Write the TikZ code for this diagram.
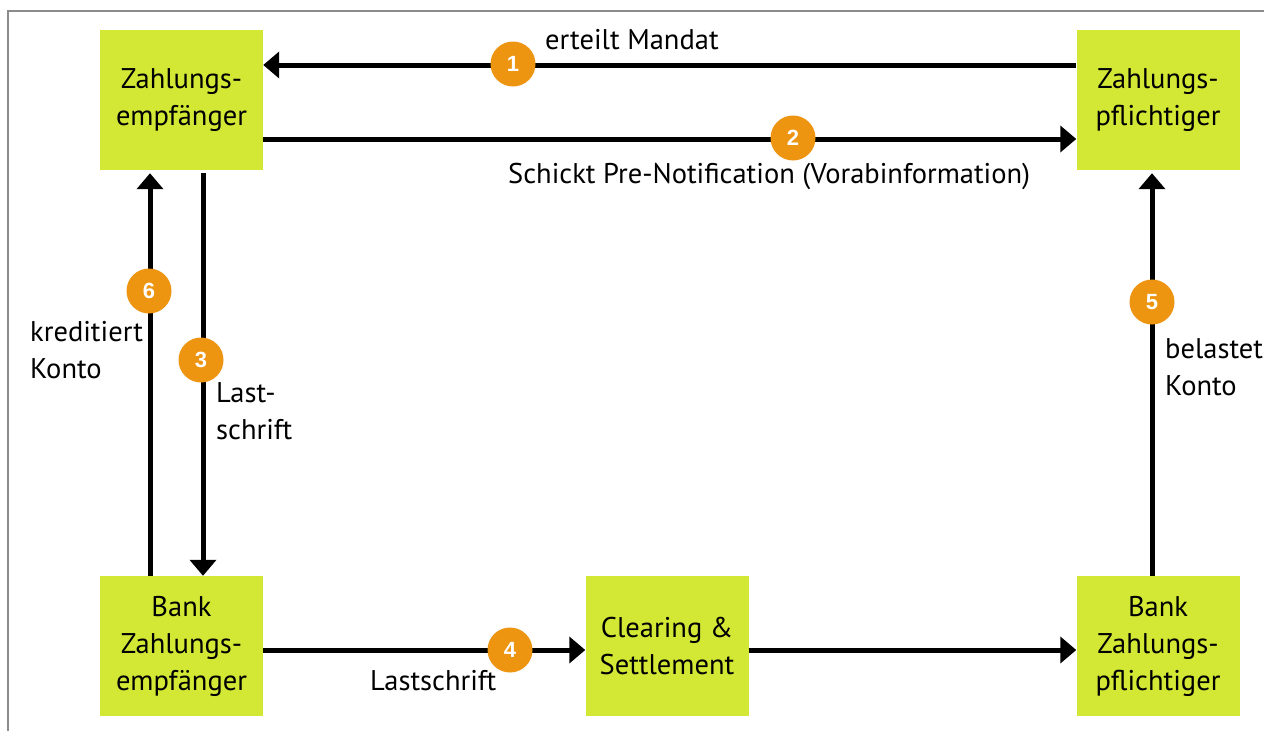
\documentclass[tikz,border=0pt]{standalone}
\usepackage{fontspec}
\setmainfont{PT Sans}
\newfontfamily\numfont{Liberation Sans}
\usetikzlibrary{arrows.meta}
\definecolor{lime}{RGB}{211,232,52}
\definecolor{orangec}{RGB}{237,148,17}
\definecolor{framegray}{RGB}{140,140,140}
\tikzset{
  box/.style={fill=lime, minimum width=163pt, minimum height=140pt, inner sep=0pt, align=center, font=\fontsize{28.5}{37}\selectfont},
  arr/.style={line width=5pt, -{Triangle[length=16pt,width=26pt]}},
  num/.style={circle, fill=orangec, minimum size=45pt, inner sep=0pt, text=white, font=\numfont\bfseries\fontsize{22}{22}\selectfont},
  lbl/.style={inner sep=0pt, align=left, font=\fontsize{28.5}{37}\selectfont}
}
\begin{document}
\begin{tikzpicture}[x=1pt,y=-1pt]
\useasboundingbox (0,0) rectangle (1264,731);
\draw[framegray, line width=2pt] (8,731) -- (8,11) -- (1264,11);

\node[box] (ze) at (181.5,100) {Zahlungs-\\empfänger};
\node[box] (zp) at (1158,100) {Zahlungs-\\pflichtiger};
\node[box] (bze) at (181.5,646) {Bank\\Zahlungs-\\empfänger};
\node[box] (bzp) at (1158,646) {Bank\\Zahlungs-\\pflichtiger};
\node[box] (cs) at (667,646) {Clearing \&\\Settlement};

\draw[arr] ([yshift=35pt]zp.west) -- ([yshift=35pt]ze.east);
\draw[arr] ([yshift=-39pt]ze.east) -- ([yshift=-39pt]zp.west);
\draw[arr, shorten <=3pt] ([xshift=21.5pt]ze.south) -- ([xshift=21.5pt]bze.north);
\draw[arr, shorten >=3pt] ([xshift=-31.5pt]bze.north) -- ([xshift=-31.5pt]ze.south);
\draw[arr, shorten >=3pt] ([xshift=-6pt]bzp.north) -- ([xshift=-6pt]zp.south);
\draw[arr] ([yshift=-4pt]bze.east) -- ([yshift=-4pt]cs.west);
\draw[arr] ([yshift=-4pt]cs.east) -- ([yshift=-4pt]bzp.west);

\node[num] (n1) at (513,64) {1};
\node[num] (n2) at (793,138) {2};
\node[num] (n3) at (201,360) {3};
\node[num] (n4) at (510,650) {4};
\node[num] (n5) at (1152,302) {5};
\node[num] (n6) at (149,291) {6};

\node[lbl, anchor=base west] (l1) at (545,49) {erteilt Mandat};
\node[lbl, anchor=base west] (l2) at (508,183) {Schickt Pre-Notification (Vorabinformation)};
\node[lbl, anchor=base west] (l3) at (216,439) {Last-\\schrift};
\node[lbl, anchor=base west] (l6) at (30,378) {kreditiert\\Konto};
\node[lbl, anchor=base west] (l5) at (1165,395) {belastet\\Konto};
\node[lbl, anchor=base west] (l4) at (370,690) {Lastschrift};
\end{tikzpicture}
\end{document}
